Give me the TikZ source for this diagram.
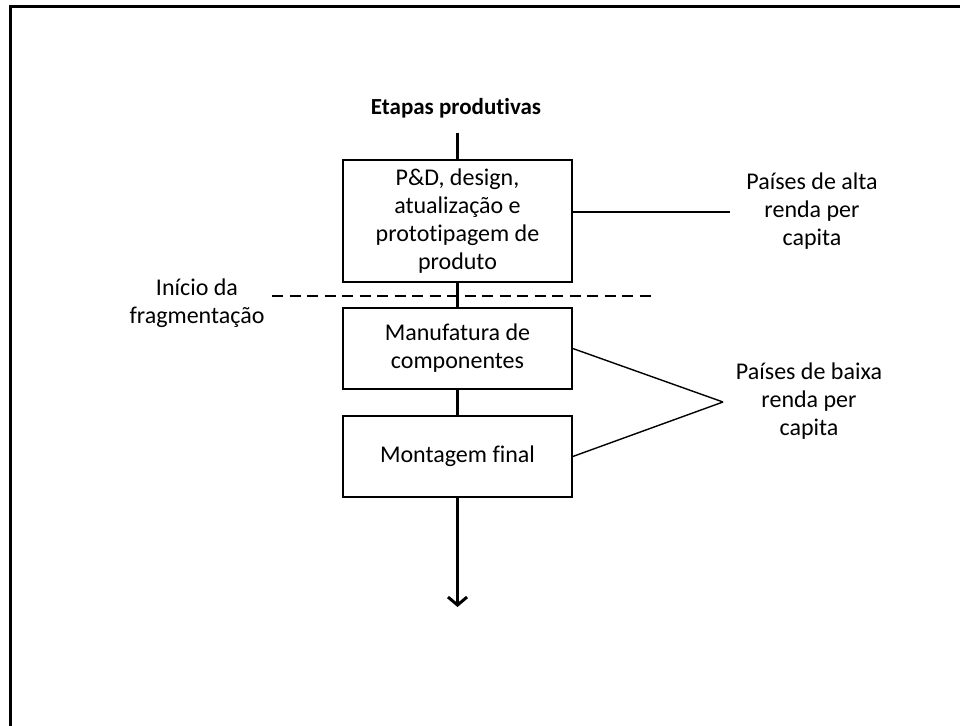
\documentclass[tikz,border=0pt]{standalone}
\usepackage{fontspec}
\setmainfont{Carlito}[Ligatures=NoCommon]
\usetikzlibrary{arrows.meta}

\tikzset{
  etapa/.style={draw, line width=1.6pt, minimum width=229pt, align=center,
    inner sep=0pt, font=\fontsize{24}{28}\selectfont},
  rotulo/.style={align=center, inner sep=0pt, font=\fontsize{24}{28}\selectfont},
  ligacao/.style={line width=3pt},
  lado/.style={line width=1.4pt}
}

\begin{document}
\begin{tikzpicture}[x=1pt, y=-1pt]
  \useasboundingbox (0,0) rectangle (960,725);

  % cornice
  \draw[line width=3pt] (10,735) -- (10,7) -- (970,7);

  % titolo
  \node[font=\fontsize{23}{28}\selectfont\bfseries, inner sep=0pt] (etapas) at (456,108) {Etapas produtivas};

  % etapas
  \node[etapa, minimum height=122pt] (pd) at (457.5,221) {P\&D, design,\\atualização e\\prototipagem de\\produto};
  \node[etapa, minimum height=81pt] (mc) at (457.5,348.5) {Manufatura de\\componentes};
  \node[etapa, minimum height=81pt] (mf) at (457.5,456.5) {Montagem final};

  % fluxo
  \coordinate (inicio) at (457.5,133);
  \coordinate (fim) at (457.5,607);
  \draw[ligacao] (inicio) -- (pd.north);
  \draw[ligacao] (pd.south) -- (mc.north);
  \draw[ligacao] (mc.south) -- (mf.north);
  \draw[ligacao, -{Straight Barb[length=8pt, width=19pt, line width=3pt]}] (mf.south) -- (fim);

  % fragmentacao
  \coordinate (fragA) at (272,296);
  \coordinate (fragB) at (655,296);
  \draw[line width=1.6pt, dash pattern=on 11pt off 6.5pt] (fragA) -- (fragB);
  \node[rotulo] (frag) at (197,303) {Início da\\fragmentação};

  % paises
  \node[rotulo] (alta) at (812,211) {Países de alta\\renda per\\capita};
  \node[rotulo] (baixa) at (809,401) {Países de baixa\\renda per\\capita};
  \coordinate (altaP) at (730,212);
  \coordinate (baixaP) at (723,402);
  \draw[lado] (pd.east |- altaP) -- (altaP);
  \draw[lado] (mc.east) -- (baixaP);
  \draw[lado] (mf.east) -- (baixaP);
\end{tikzpicture}
\end{document}
